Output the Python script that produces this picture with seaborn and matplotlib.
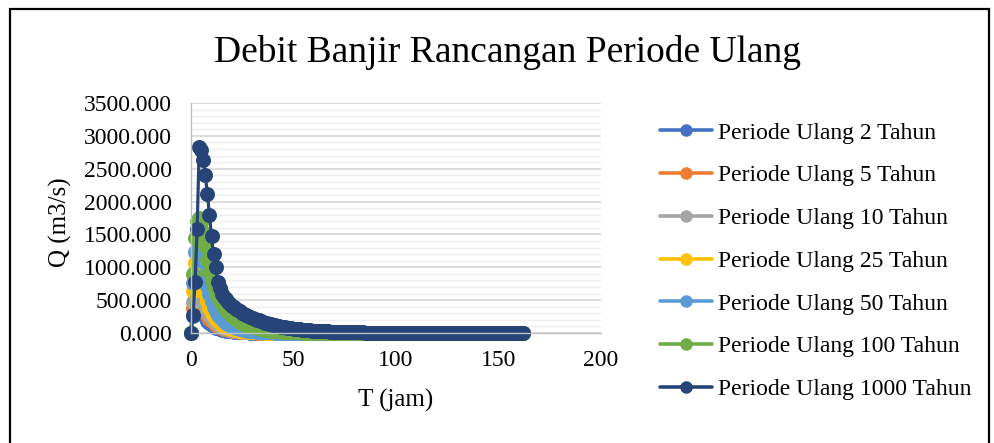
import numpy as np
import pandas as pd
import matplotlib
matplotlib.use("Agg")
import matplotlib.pyplot as plt
from matplotlib.lines import Line2D
from matplotlib.patches import Rectangle
from matplotlib.ticker import MultipleLocator, FuncFormatter
import seaborn as sns

# ---------------------------------------------------------------- data
# hourly time steps of the design hydrographs (jam)
T_JAM = np.arange(0, 163)

SERIES_NAMES = [
    "Periode Ulang 2 Tahun",
    "Periode Ulang 5 Tahun",
    "Periode Ulang 10 Tahun",
    "Periode Ulang 25 Tahun",
    "Periode Ulang 50 Tahun",
    "Periode Ulang 100 Tahun",
    "Periode Ulang 1000 Tahun",
]

COLORS = ["#4472C4", "#ED7D31", "#A5A5A5", "#FFC000",
          "#5B9BD5", "#70AD47", "#264478"]

# design discharge Q (m3/s), one value per hour, rows of ten
Q_2 = [
    0, 265, 432, 480, 456, 385, 302, 238, 188, 150,
    121, 99, 83, 70, 60, 51, 44, 38, 33, 28.5,
    24.7, 21.5, 18.8, 16.4, 14.4, 12.6, 11, 9.6, 8.4, 7.4,
    6.5, 5.7, 5.0, 4.4, 3.8, 3.4, 2.9, 2.6, 2.3, 2.0,
    1.75, 1.53, 1.34, 1.17, 1.02, 0.9, 0.79, 0.69, 0.6, 0.53,
    0.46, 0.4, 0.35, 0.31, 0.27, 0.24, 0.21, 0.18, 0.16, 0.14,
    0.12, 0.11, 0.09, 0.08, 0.07, 0.06, 0.05, 0.05, 0.04, 0.04,
    0.03, 0.03, 0.03, 0.02, 0.02, 0.02, 0.02, 0.01, 0.01, 0.01,
    0.01, 0.01, 0.01, 0.01, 0.01, 0, 0, 0, 0, 0,
    0, 0, 0, 0, 0, 0, 0, 0, 0, 0,
    0, 0, 0, 0, 0, 0, 0, 0, 0, 0,
    0, 0, 0, 0, 0, 0, 0, 0, 0, 0,
    0, 0, 0, 0, 0, 0, 0, 0, 0, 0,
    0, 0, 0, 0, 0, 0, 0, 0, 0, 0,
    0, 0, 0, 0, 0, 0, 0, 0, 0, 0,
    0, 0, 0, 0, 0, 0, 0, 0, 0, 0,
    0, 0, 0,
]

Q_5 = [
    0, 385, 630, 700, 665, 565, 445, 350, 275, 220,
    178, 146, 122, 103, 88, 75, 65, 56, 48, 42,
    36.5, 32, 28, 24.5, 21.5, 18.7, 16.3, 14.2, 12.4, 10.9,
    9.5, 8.3, 7.3, 6.4, 5.6, 4.9, 4.3, 3.8, 3.3, 2.9,
    2.5, 2.2, 1.9, 1.7, 1.5, 1.3, 1.15, 1.0, 0.88, 0.77,
    0.68, 0.59, 0.52, 0.46, 0.4, 0.35, 0.31, 0.27, 0.24, 0.21,
    0.18, 0.16, 0.14, 0.12, 0.11, 0.09, 0.08, 0.07, 0.06, 0.05,
    0.05, 0.04, 0.04, 0.03, 0.03, 0.02, 0.02, 0.02, 0.02, 0.01,
    0.01, 0.01, 0.01, 0.01, 0.01, 0.01, 0.01, 0.01, 0.01, 0.01,
    0, 0, 0, 0, 0, 0, 0, 0, 0, 0,
    0, 0, 0, 0, 0, 0, 0, 0, 0, 0,
    0, 0, 0, 0, 0, 0, 0, 0, 0, 0,
    0, 0, 0, 0, 0, 0, 0, 0, 0, 0,
    0, 0, 0, 0, 0, 0, 0, 0, 0, 0,
    0, 0, 0, 0, 0, 0, 0, 0, 0, 0,
    0, 0, 0, 0, 0, 0, 0, 0, 0, 0,
    0, 0, 0,
]

Q_10 = [
    0, 475, 785, 870, 830, 710, 565, 445, 350, 280,
    225, 185, 154, 130, 111, 95, 82, 71, 61, 53,
    46, 40, 35, 31, 27, 23.5, 20.5, 18, 15.8, 13.9,
    12.2, 10.7, 9.4, 8.2, 7.2, 6.3, 5.5, 4.8, 4.2, 3.7,
    3.2, 2.8, 2.5, 2.2, 1.9, 1.7, 1.5, 1.3, 1.1, 1.0,
    0.87, 0.76, 0.67, 0.59, 0.52, 0.45, 0.4, 0.35, 0.31, 0.27,
    0.24, 0.21, 0.18, 0.16, 0.14, 0.12, 0.11, 0.09, 0.08, 0.07,
    0.06, 0.05, 0.05, 0.04, 0.04, 0.03, 0.03, 0.02, 0.02, 0.02,
    0.01, 0.01, 0.01, 0.01, 0.01, 0.01, 0.01, 0.01, 0.01, 0.01,
    0, 0, 0, 0, 0, 0, 0, 0, 0, 0,
    0, 0, 0, 0, 0, 0, 0, 0, 0, 0,
    0, 0, 0, 0, 0, 0, 0, 0, 0, 0,
    0, 0, 0, 0, 0, 0, 0, 0, 0, 0,
    0, 0, 0, 0, 0, 0, 0, 0, 0, 0,
    0, 0, 0, 0, 0, 0, 0, 0, 0, 0,
    0, 0, 0, 0, 0, 0, 0, 0, 0, 0,
    0, 0, 0,
]

Q_25 = [
    0, 640, 1060, 1170, 1120, 960, 770, 610, 480, 385,
    310, 255, 212, 178, 151, 129, 111, 96, 83, 72,
    63, 55, 48, 42, 37, 32, 28, 24.5, 21.5, 19,
    16.5, 14.5, 12.7, 11.1, 9.7, 8.5, 7.5, 6.6, 5.8, 5.1,
    4.5, 3.9, 3.4, 3.0, 2.6, 2.3, 2.0, 1.8, 1.6, 1.4,
    1.2, 1.05, 0.92, 0.81, 0.71, 0.62, 0.55, 0.48, 0.42, 0.37,
    0.32, 0.28, 0.25, 0.22, 0.19, 0.17, 0.15, 0.13, 0.11, 0.1,
    0.09, 0.08, 0.07, 0.06, 0.05, 0.04, 0.04, 0.03, 0.03, 0.03,
    0.02, 0.02, 0.02, 0.02, 0.02, 0.01, 0.01, 0.01, 0.01, 0.01,
    0, 0, 0, 0, 0, 0, 0, 0, 0, 0,
    0, 0, 0, 0, 0, 0, 0, 0, 0, 0,
    0, 0, 0, 0, 0, 0, 0, 0, 0, 0,
    0, 0, 0, 0, 0, 0, 0, 0, 0, 0,
    0, 0, 0, 0, 0, 0, 0, 0, 0, 0,
    0, 0, 0, 0, 0, 0, 0, 0, 0, 0,
    0, 0, 0, 0, 0, 0, 0, 0, 0, 0,
    0, 0, 0,
]

Q_50 = [
    0, 760, 1240, 1420, 1390, 1260, 1080, 890, 720, 590,
    480, 395, 330, 280, 240, 207, 180, 157, 137, 120,
    105, 92, 81, 71, 62, 55, 48, 42, 37, 33,
    29, 25.5, 22.5, 20, 17.5, 15.5, 13.6, 12, 10.5, 9.3,
    8.2, 7.2, 6.3, 5.6, 4.9, 4.3, 3.8, 3.4, 3.0, 2.6,
    2.3, 2.0, 1.8, 1.6, 1.4, 1.2, 1.1, 0.95, 0.84, 0.74,
    0.65, 0.57, 0.5, 0.44, 0.39, 0.34, 0.3, 0.27, 0.24, 0.21,
    0.18, 0.16, 0.14, 0.12, 0.11, 0.1, 0.09, 0.08, 0.07, 0.06,
    0.05, 0.05, 0.04, 0.04, 0.03, 0.03, 0.03, 0.02, 0.02, 0.02,
    0.02, 0.01, 0.01, 0.01, 0.01, 0.01, 0.01, 0.01, 0.01, 0.01,
    0, 0, 0, 0, 0, 0, 0, 0, 0, 0,
    0, 0, 0, 0, 0, 0, 0, 0, 0, 0,
    0, 0, 0, 0, 0, 0, 0, 0, 0, 0,
    0, 0, 0, 0, 0, 0, 0, 0, 0, 0,
    0, 0, 0, 0, 0, 0, 0, 0, 0, 0,
    0, 0, 0, 0, 0, 0, 0, 0, 0, 0,
    0, 0, 0,
]

Q_100 = [
    0, 900, 1450, 1700, 1750, 1690, 1530, 1320, 1110, 930,
    800, 700, 615, 545, 490, 440, 395, 355, 320, 290,
    262, 237, 214, 193, 174, 157, 142, 128, 115, 104,
    94, 85, 76, 69, 62, 56, 50, 45, 41, 37,
    33, 30, 27, 24, 22, 20, 18, 16, 14.5, 13,
    11.7, 10.5, 9.5, 8.5, 7.7, 6.9, 6.2, 5.6, 5.0, 4.5,
    4.1, 3.7, 3.3, 3.0, 2.7, 2.4, 2.2, 2.0, 1.8, 1.6,
    1.4, 1.3, 1.2, 1.0, 0.9, 0.8, 0.75, 0.7, 0.6, 0.55,
    0.5, 0.45, 0.4, 0.36, 0.32, 0.29, 0.26, 0.23, 0.21, 0.19,
    0.17, 0.15, 0.14, 0.12, 0.11, 0.1, 0.09, 0.08, 0.07, 0.06,
    0.05, 0.05, 0.04, 0.04, 0.03, 0.03, 0.03, 0.02, 0.02, 0.02,
    0.02, 0.02, 0.01, 0.01, 0.01, 0.01, 0.01, 0.01, 0.01, 0.01,
    0.01, 0.01, 0.01, 0.01, 0.01, 0.01, 0.01, 0.01, 0.01, 0.01,
    0, 0, 0, 0, 0, 0, 0, 0, 0, 0,
    0, 0, 0, 0, 0, 0, 0, 0, 0, 0,
    0, 0, 0, 0, 0, 0, 0, 0, 0, 0,
    0, 0, 0,
]

Q_1000 = [
    0, 280, 780, 1580, 2830, 2790, 2640, 2400, 2120, 1800,
    1470, 1200, 1000, 780, 680, 600, 550, 510, 475, 445,
    418, 393, 370, 348, 328, 309, 291, 274, 258, 243,
    229, 216, 203, 191, 180, 169, 159, 149, 140, 131,
    123, 115, 108, 101, 95, 89, 84, 79, 74, 70,
    66, 62, 58, 55, 52, 49, 46, 43, 41, 38,
    36, 34, 32, 30, 28, 26, 24.5, 23, 21.5, 20,
    19, 18, 17, 16, 15, 14, 13, 12.3, 11.6, 10.9,
    10.2, 9.6, 9.0, 8.5, 8.0, 7.5, 7.0, 6.6, 6.2, 5.8,
    5.5, 5.2, 4.9, 4.6, 4.3, 4.0, 3.8, 3.6, 3.4, 3.2,
    3.0, 2.8, 2.6, 2.5, 2.3, 2.2, 2.1, 1.9, 1.8, 1.7,
    1.6, 1.5, 1.4, 1.3, 1.25, 1.2, 1.1, 1.0, 0.95, 0.9,
    0.85, 0.8, 0.75, 0.7, 0.66, 0.62, 0.58, 0.55, 0.52, 0.49,
    0.46, 0.43, 0.4, 0.38, 0.36, 0.34, 0.32, 0.3, 0.28, 0.26,
    0.25, 0.23, 0.22, 0.21, 0.2, 0.19, 0.18, 0.17, 0.16, 0.15,
    0.14, 0.13, 0.12, 0.115, 0.11, 0.1, 0.095, 0.09, 0.085, 0.08,
    0.075, 0.07, 0.066,
]

SERIES_Q = [Q_2, Q_5, Q_10, Q_25, Q_50, Q_100, Q_1000]

# ---------------------------------------------------------------- style
sns.set_theme(style="white")
plt.rcParams["font.family"] = ["Liberation Serif", "DejaVu Serif"]
plt.rcParams["text.color"] = "black"

W, H = 994, 443
fig = plt.figure(figsize=(W / 100, H / 100), dpi=100)
fig.patch.set_facecolor("white")

# plot area in pixel terms
x0, x1, y_top, y_bot = 191, 601, 103, 333
ax = fig.add_axes([x0 / W, 1 - y_bot / H, (x1 - x0) / W, (y_bot - y_top) / H])

frames = []
for name, q in zip(SERIES_NAMES, SERIES_Q):
    n = min(len(T_JAM), len(q))
    frames.append(pd.DataFrame({"T": T_JAM[:n], "Q": q[:n], "Periode": name}))
df = pd.concat(frames, ignore_index=True)

sns.lineplot(
    data=df, x="T", y="Q", hue="Periode", hue_order=SERIES_NAMES,
    palette=COLORS, estimator=None, sort=False, legend=False,
    marker="o", markersize=10.8, markeredgewidth=0, linewidth=2.3,
    clip_on=False, ax=ax,
)

ax.set_xlim(0, 200)
ax.set_ylim(0, 3500)
ax.xaxis.set_major_locator(MultipleLocator(50))
ax.yaxis.set_major_locator(MultipleLocator(500))
ax.yaxis.set_minor_locator(MultipleLocator(100))
ax.yaxis.set_major_formatter(FuncFormatter(lambda v, p: f"{v:.3f}"))
ax.xaxis.set_major_formatter(FuncFormatter(lambda v, p: f"{v:.0f}"))

ax.set_axisbelow(True)
ax.grid(which="major", axis="y", color="#d9d9d9", linewidth=1.3)
ax.grid(which="minor", axis="y", color="#eeeeee", linewidth=1.0)
ax.grid(which="both", axis="x", visible=False)

for side in ("top", "right"):
    ax.spines[side].set_visible(False)
for side in ("left", "bottom"):
    ax.spines[side].set_color("#bfbfbf")
    ax.spines[side].set_linewidth(1.0)

ax.tick_params(which="major", direction="out", length=5, width=1,
               color="#bfbfbf", labelsize=17, labelcolor="black")
ax.tick_params(axis="y", which="major", pad=9)
ax.tick_params(axis="x", which="major", pad=7)
ax.tick_params(which="minor", length=0)
ax.set_xlabel("")
ax.set_ylabel("")

# titles and axis labels
fig.text(508 / W, 1 - 53 / H, "Debit Banjir Rancangan Periode Ulang",
         ha="center", va="center", fontsize=27)
fig.text(60 / W, 1 - 222 / H, "Q (m3/s)", rotation=90,
         ha="center", va="center", fontsize=18)
fig.text(396 / W, 1 - 400 / H, "T (jam)", ha="center", va="center",
         fontsize=18)

# legend
handles = [
    Line2D([0], [0], color=c, linewidth=2.6, marker="o", markersize=9,
           markeredgewidth=0)
    for c in COLORS
]
fig.legend(handles, SERIES_NAMES, loc="upper left",
           bbox_to_anchor=(660 / W, 1 - 122 / H), frameon=False,
           fontsize=17, handlelength=2.2, handletextpad=0.25,
           labelspacing=0.9, borderpad=0, borderaxespad=0)

# chart border
fig.patches.append(Rectangle((9.5 / W, -0.1), (988.5 - 9.5) / W,
                             1.1 - 9 / H, transform=fig.transFigure,
                             fill=False, edgecolor="black", linewidth=1.6,
                             figure=fig))

fig.savefig("out.png", dpi=100, facecolor="white")
